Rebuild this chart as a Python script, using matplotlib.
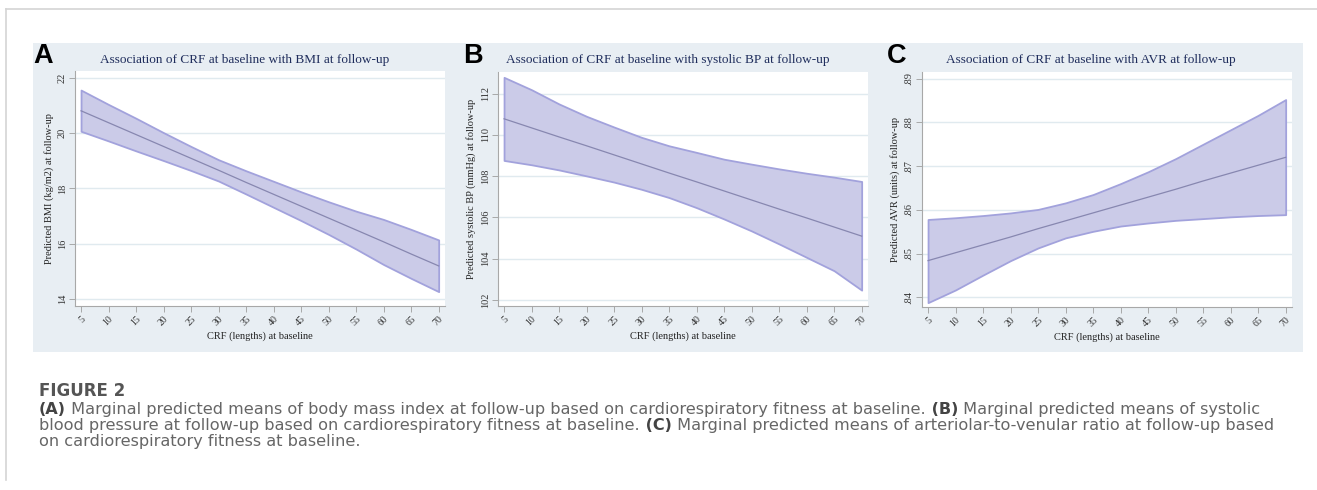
import matplotlib
matplotlib.use('Agg')
import matplotlib.pyplot as plt
from matplotlib.patches import Rectangle
from matplotlib.lines import Line2D

# ---- data ----
crf = [5, 10, 15, 20, 25, 30, 35, 40, 45, 50, 55, 60, 65, 70]

bmi_mean = [20.81, 20.38, 19.95, 19.52, 19.09, 18.66, 18.22, 17.79, 17.36, 16.93, 16.50, 16.07, 15.63, 15.20]
bmi_upper = [21.56, 21.04, 20.54, 20.02, 19.52, 19.04, 18.64, 18.26, 17.88, 17.52, 17.18, 16.88, 16.52, 16.14]
bmi_lower = [20.07, 19.72, 19.36, 19.01, 18.65, 18.27, 17.80, 17.32, 16.84, 16.34, 15.81, 15.25, 14.75, 14.27]

sbp_mean = [110.78, 110.34, 109.90, 109.47, 109.03, 108.59, 108.15, 107.72, 107.28, 106.84, 106.40, 105.97, 105.53, 105.09]
sbp_upper = [112.79, 112.19, 111.50, 110.90, 110.38, 109.88, 109.47, 109.15, 108.82, 108.58, 108.35, 108.14, 107.95, 107.74]
sbp_lower = [108.76, 108.55, 108.30, 108.01, 107.71, 107.36, 106.96, 106.47, 105.92, 105.34, 104.71, 104.06, 103.41, 102.47]

avr_mean = [0.8484, 0.8502, 0.8520, 0.8538, 0.8557, 0.8575, 0.8593, 0.8611, 0.8629, 0.8647, 0.8666, 0.8684, 0.8702, 0.8720]
avr_upper = [0.8578, 0.8582, 0.8587, 0.8593, 0.8601, 0.8616, 0.8635, 0.8660, 0.8687, 0.8717, 0.8750, 0.8783, 0.8816, 0.8852]
avr_lower = [0.8388, 0.8417, 0.8451, 0.8484, 0.8513, 0.8536, 0.8551, 0.8563, 0.8570, 0.8576, 0.8580, 0.8584, 0.8587, 0.8589]

bmi_ticks = [14, 16, 18, 20, 22]
sbp_ticks = [102, 104, 106, 108, 110, 112]
avr_ticks = [0.84, 0.85, 0.86, 0.87, 0.88, 0.89]
avr_ticklabels = ['.84', '.85', '.86', '.87', '.88', '.89']

titles = ['Association of CRF at baseline with BMI at follow-up',
          'Association of CRF at baseline with systolic BP at follow-up',
          'Association of CRF at baseline with AVR at follow-up']
ylabels = ['Predicted BMI (kg/m2) at follow-up',
           'Predicted systolic BP (mmHg) at follow-up',
           'Predicted AVR (units) at follow-up']
xlabel = 'CRF (lengths) at baseline'
letters = ['A', 'B', 'C']

caption_lines = [
    [('(A)', True), (' Marginal predicted means of body mass index at follow-up based on cardiorespiratory fitness at baseline.', False),
     (' (B)', True), (' Marginal predicted means of systolic', False)],
    [('blood pressure at follow-up based on cardiorespiratory fitness at baseline.', False),
     (' (C)', True), (' Marginal predicted means of arteriolar-to-venular ratio at follow-up based', False)],
    [('on cardiorespiratory fitness at baseline.', False)],
]

# ---- layout (pixels) ----
W, H, DPI = 1317, 490, 100
BG = '#e8eef3'
FILL = '#cbcbe8'
EDGE = '#a2a2dc'
LINE = '#8787b0'
SERIF = 'Liberation Serif'

def box(x0, y0, x1, y1):
    return [x0 / W, 1 - y1 / H, (x1 - x0) / W, (y1 - y0) / H]

fig = plt.figure(figsize=(W / DPI, H / DPI), dpi=DPI)
fig.patch.set_facecolor('white')

# frame lines of the page
fig.add_artist(Line2D([6 / W, 1], [1 - 9 / H, 1 - 9 / H], color='#d4d4d4', lw=1.2))
fig.add_artist(Line2D([6 / W, 6 / W], [1 - 9 / H, 1 - 480 / H], color='#d4d4d4', lw=1.2))

# light background of the graph
fig.add_artist(Rectangle((33 / W, 1 - 352 / H), (1303 - 33) / W, (352 - 43) / H,
                         transform=fig.transFigure, facecolor=BG, edgecolor='none', zorder=0))

axes_px = [(75, 71, 445, 306), (498, 72, 868, 306), (922, 72, 1292, 307)]
ylims = [(13.75, 22.25), (101.7, 113.05), (0.8378, 0.8915)]
title_x = [245, 668, 1091]
letter_x = [33, 463, 887]

series = [(bmi_mean, bmi_lower, bmi_upper, bmi_ticks, [str(t) for t in bmi_ticks]),
          (sbp_mean, sbp_lower, sbp_upper, sbp_ticks, [str(t) for t in sbp_ticks]),
          (avr_mean, avr_lower, avr_upper, avr_ticks, avr_ticklabels)]

for i in range(3):
    mean, low, up, yt, ytl = series[i]
    ax = fig.add_axes(box(*axes_px[i]))
    ax.set_facecolor('white')
    ax.fill_between(crf, low, up, facecolor=FILL, edgecolor=EDGE, linewidth=1.3, zorder=2)
    ax.plot(crf, mean, color=LINE, lw=0.9, zorder=3)
    ax.set_xlim(3.9, 71.15)
    ax.set_ylim(*ylims[i])
    ax.set_yticks(yt)
    ax.set_yticklabels(ytl, rotation=90, va='center', fontfamily=SERIF, fontsize=7.5, color='#333333')
    ax.set_xticks(crf)
    ax.set_xticklabels([str(c) for c in crf], rotation=45, ha='right', va='top',
                       rotation_mode='anchor', fontfamily=SERIF, fontsize=7, color='#333333')
    ax.grid(axis='y', color='#e0eaef', lw=1.0, zorder=1)
    ax.set_axisbelow(True)
    for s in ['top', 'right']:
        ax.spines[s].set_visible(False)
    for s in ['left', 'bottom']:
        ax.spines[s].set_color('#a8a8a8')
        ax.spines[s].set_linewidth(0.8)
    ax.tick_params(axis='both', length=4, width=0.7, color='#a8a8a8', pad=2)
    ax.set_ylabel(ylabels[i], fontfamily=SERIF, fontsize=7.5, color='#222222', labelpad=3)
    ax.set_xlabel(xlabel, fontfamily=SERIF, fontsize=7.5, color='#222222', labelpad=3)

    fig.text(title_x[i] / W, 1 - 60 / H, titles[i], ha='center', va='center',
             fontfamily=SERIF, fontsize=9.5, color='#1f2d5c')
    fig.text(letter_x[i] / W, 1 - 63 / H, letters[i], ha='left', va='baseline',
             fontfamily='Liberation Sans', fontweight='bold', fontsize=19.5, color='black')

# ---- caption ----
fig.text(39 / W, 1 - 396 / H, 'FIGURE 2', ha='left', va='baseline',
         fontfamily='DejaVu Sans', fontweight='bold', fontsize=12, color='#555555')

renderer = fig.canvas.get_renderer()
baselines = [414, 430, 446]
for line, yb in zip(caption_lines, baselines):
    x = 39
    for s, bold in line:
        t = fig.text(x / W, 1 - yb / H, s, ha='left', va='baseline', fontfamily='DejaVu Sans',
                     fontweight='bold' if bold else 'normal', fontsize=11.6,
                     color='#444444' if bold else '#666666')
        x = t.get_window_extent(renderer).x1

fig.savefig('out.png', dpi=DPI)
